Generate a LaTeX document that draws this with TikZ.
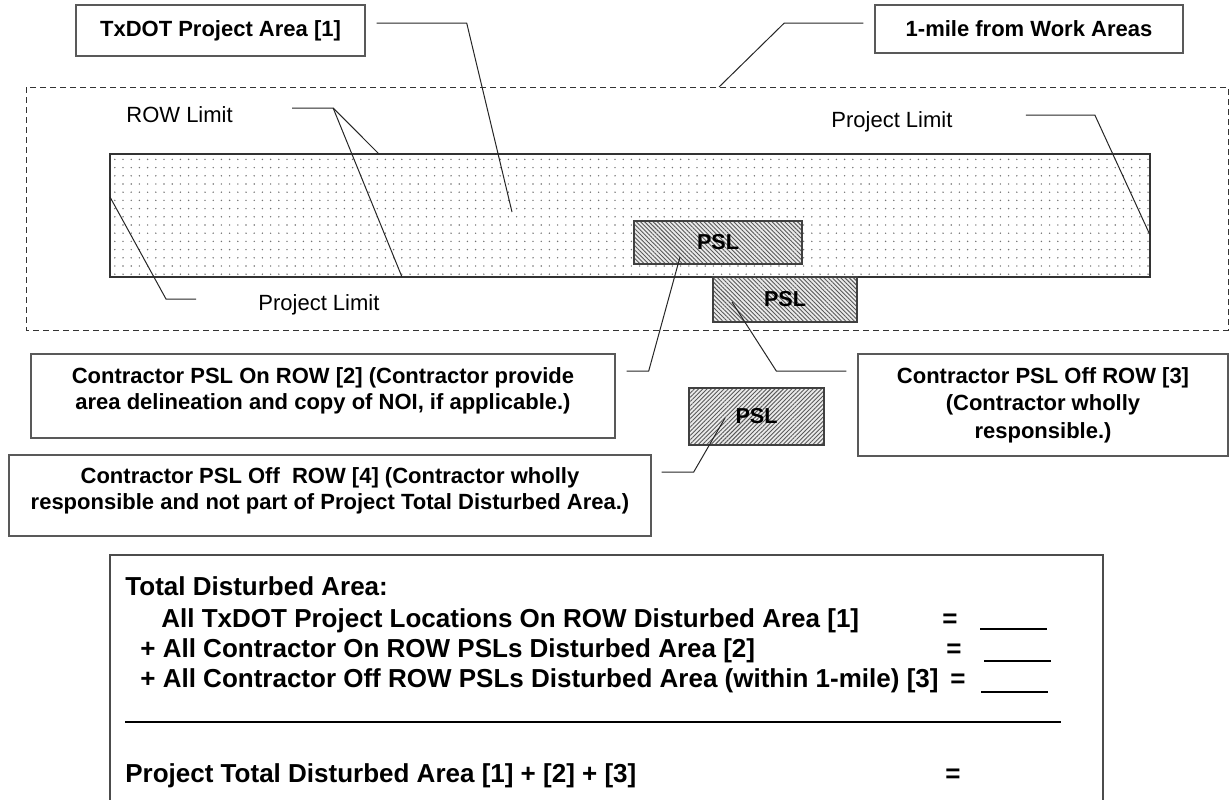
\documentclass[tikz,border=0pt]{standalone}
\usepackage{fontspec}
\setmainfont{Liberation Sans}
\usetikzlibrary{patterns.meta}

\begin{document}
\begin{tikzpicture}[
    x=0.5pt, y=-0.5pt,
    callout/.style={rectangle, draw=black!65, line width=0.7pt, align=center, inner sep=0pt, font=\bfseries\fontsize{11}{13}\selectfont},
    psl/.style={rectangle, draw=black!75, line width=0.7pt, inner sep=0pt, preaction={fill=black!8}, pattern={Lines[angle=#1, distance=1.5pt, line width=0.45pt]}, pattern color=black!65, font=\bfseries\fontsize{10.8}{12}\selectfont},
    leader/.style={draw=black!85, line width=0.5pt},
    limit/.style={font=\fontsize{11}{13}\selectfont, inner sep=0pt, anchor=base west},
    sumline/.style={font=\bfseries\fontsize{13}{15}\selectfont, inner sep=0pt, anchor=base west},
    sumeq/.style={font=\bfseries\fontsize{13}{15}\selectfont, inner sep=0pt, anchor=base},
    blank/.style={line width=0.8pt}
]
    \useasboundingbox (0,0) rectangle (1230,799);

    % 1-mile zone and project area
    \draw[draw=black!80, line width=0.5pt, dash pattern=on 3pt off 2pt] (26,87) rectangle (1228,330);
    \node[rectangle, draw=black!80, line width=0.7pt, inner sep=0pt, minimum width=520pt, minimum height=61.5pt,
        pattern={Dots[distance=4.1pt, radius=0.4pt]}, pattern color=black!55] (rowarea) at (630,215.5) {};

    \node[psl=-45, minimum width=84pt, minimum height=21.5pt] (pslon) at (718,242.5) {PSL};
    \node[psl=-45, minimum width=72pt, minimum height=22.5pt] (psloff) at (785,299.5) {PSL};
    \node[psl=45, minimum width=67.5pt, minimum height=28.5pt] (pslout) at (756.5,416.5) {PSL};

    % callouts
    \node[callout, minimum width=144.5pt, minimum height=25.5pt] (txdot) at (220.5,30.5) {TxDOT Project Area [1]};
    \node[callout, minimum width=154pt, minimum height=24pt] (onemile) at (1029,29) {1-mile from Work Areas};
    \node[callout, minimum width=292pt, minimum height=42pt, text depth=7pt] (onrow) at (323,396)
        {Contractor PSL On ROW [2] (Contractor provide\\area delineation and copy of NOI, if applicable.)};
    \node[callout, minimum width=185pt, minimum height=51pt, font=\bfseries\fontsize{11}{13.7}\selectfont] (offrow) at (1043,405)
        {Contractor PSL Off ROW [3]\\(Contractor wholly\\responsible.)};
    \node[callout, minimum width=321pt, minimum height=40.5pt, text depth=7pt] (outrow) at (330,495.5)
        {Contractor PSL Off\ \ ROW [4] (Contractor wholly\\responsible and not part of Project Total Disturbed Area.)};

    \node[limit] (rowlabel) at (126,122) {ROW Limit};
    \node[limit] (leftlimit) at (258,310) {Project Limit};
    \node[limit] (rightlimit) at (831,127) {Project Limit};

    % leaders
    \coordinate (txdot tip) at (512,212);
    \coordinate (mile tip) at (719,87);
    \coordinate (row top) at (379,154);
    \coordinate (row bottom) at (402,277);
    \coordinate (left tip) at (110,197);
    \coordinate (right tip) at (1150,235);

    \draw[leader] ([shift={(11,-7.5)}]txdot.east) -- ++(90,0) -- (txdot tip);
    \draw[leader] ([shift={(-11,-6)}]onemile.west) -- ++(-79,0) -- (mile tip);
    \draw[leader] ([shift={(59,-14)}]rowlabel.base east) -- ++(41,0) coordinate (row knee) -- (row top);
    \draw[leader] (row knee) -- (row bottom);
    \draw[leader] ([shift={(-62,-11)}]leftlimit.base west) -- ++(-30,0) -- (left tip);
    \draw[leader] ([shift={(73,-12)}]rightlimit.base east) -- ++(69,0) -- (right tip);
    \draw[leader] ([shift={(-38,14.5)}]pslon.center) -- ([shift={(33,-25)}]onrow.east) -- ([shift={(11,-25)}]onrow.east);
    \draw[leader] ([shift={(-53,2.5)}]psloff.center) -- ([shift={(-81,-34)}]offrow.west) -- ([shift={(-11,-34)}]offrow.west);
    \draw[leader] ([shift={(-31.5,1.5)}]pslout.center) -- ([shift={(42,-23.5)}]outrow.east) -- ([shift={(10,-23.5)}]outrow.east);

    % total disturbed area
    \draw[draw=black!70, line width=0.7pt] (110,800) |- (1103,555) -- (1103,800);
    \node[sumline] (sumtitle) at (125,595) {Total Disturbed Area:};
    \node[sumline] (sumone) at (161,627) {All TxDOT Project Locations On ROW Disturbed Area [1]};
    \node[sumline] (sumtwo) at (140,657) {+ All Contractor On ROW PSLs Disturbed Area [2]};
    \node[sumline] (sumthree) at (140,687) {+ All Contractor Off ROW PSLs Disturbed Area (within 1-mile) [3]};
    \node[sumline] (sumtotal) at (125,782) {Project Total Disturbed Area [1] + [2] + [3]};

    \foreach \ex/\ey in {950/627, 954/657, 958/687, 953/782}
        \node[sumeq] (eq\ey) at (\ex,\ey) {=};
    \foreach \bx/\by in {980/629, 984/661, 981/692}
        \draw[blank] (\bx,\by) -- ++(67,0);
    \draw[line width=0.75pt] (125,722) -- (1061,722);

\end{tikzpicture}
\end{document}
